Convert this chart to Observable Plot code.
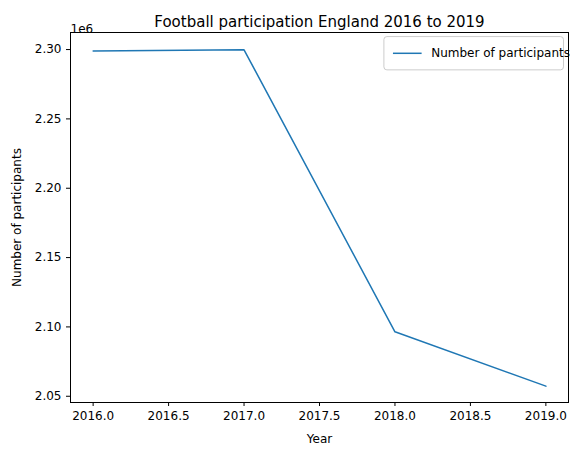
<!DOCTYPE html>
<html><head>
<script src="https://cdn.jsdelivr.net/npm/d3@7"></script>
<script src="https://cdn.jsdelivr.net/npm/@observablehq/plot@0.6"></script>
<style>body{margin:0;background:#fff}</style>
</head><body><div id="chart"></div>
<script>
const years = [2016, 2017, 2018, 2019];
const participants = [2299000, 2299800, 2096500, 2057300];
const xTicks = [2016, 2016.5, 2017, 2017.5, 2018, 2018.5, 2019];
const yTicks = [2050000, 2100000, 2150000, 2200000, 2250000, 2300000];
const data = years.map((y, i) => ({year: y, n: participants[i]}));
const blue = "#1f77b4";

let chart = Plot.plot({
  width: 577, height: 455,
  marginLeft: 70, marginRight: 9, marginTop: 32, marginBottom: 53,
  style: {fontFamily: "DejaVu Sans", fontSize: "12px", color: "#000"},
  x: {domain: [2015.85, 2019.15]},
  y: {domain: [2045500, 2312300]},
  marks: [
    Plot.axisX({ticks: xTicks, tickFormat: d3.format(".1f"), fontSize: 12, tickSize: 4, label: "Year", labelAnchor: "center", labelOffset: 40, labelArrow: "none"}),
    Plot.axisY({ticks: yTicks, tickFormat: d => (d / 1e6).toFixed(2), fontSize: 12, tickSize: 4, label: "Number of participants", labelAnchor: "center", labelOffset: 58, labelArrow: "none"}),
    Plot.line(data, {x: "year", y: "n", stroke: blue, strokeWidth: 1.5}),
    Plot.frame({stroke: "#000"}),
    Plot.text(["Football participation England 2016 to 2019"], {frameAnchor: "top", dy: -16, fontSize: 15}),
    Plot.text(["1e6"], {frameAnchor: "top-left", dy: -8, textAnchor: "start", fontSize: 12}),
    Plot.rect([0], {x1: 2017.93, x2: 2019.12, y1: 2309000, y2: 2285000, stroke: "#ccc", fill: "#fff", rx: 3}),
    Plot.ruleY([2297300], {x1: 2017.99, x2: 2018.18, stroke: blue, strokeWidth: 1.5}),
    Plot.text(["Number of participants"], {x: 2018.24, y: 2297300, textAnchor: "start", fontSize: 12})
  ]
});
d3.select('#chart').append(() => chart);
</script></body></html>
